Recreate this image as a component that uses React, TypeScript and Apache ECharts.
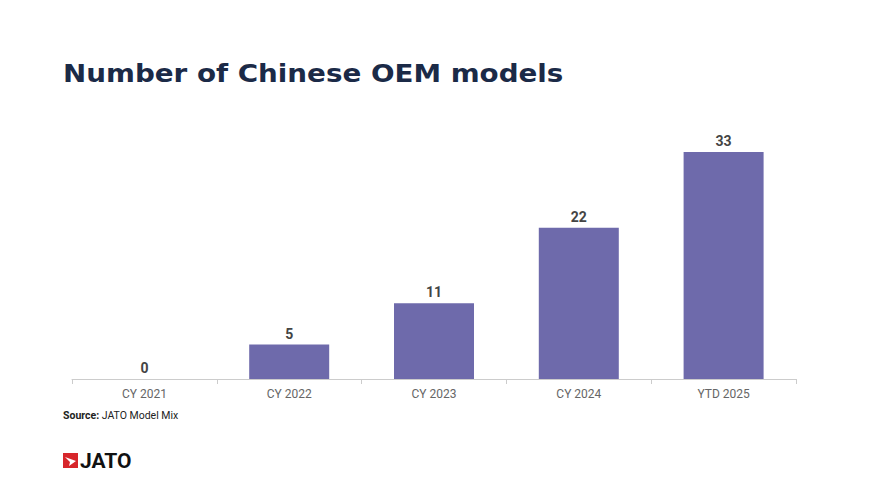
import React, { useEffect, useRef } from "react";
import * as echarts from "echarts";

const categories = ["CY 2021", "CY 2022", "CY 2023", "CY 2024", "YTD 2025"];
const values = [0, 5, 11, 22, 33];

export default function App() {
  const ref = useRef<HTMLDivElement>(null);
  useEffect(() => {
    const chart = echarts.init(ref.current!, null, { renderer: "svg" });
    chart.setOption({
      animation: false,
      backgroundColor: "#ffffff",
      grid: { left: 72, right: 73, top: 152, bottom: 109 },
      xAxis: {
        type: "category",
        data: categories,
        axisLine: { lineStyle: { color: "#cccccc", width: 1 } },
        axisTick: { show: true, length: 5, lineStyle: { color: "#cccccc" } },
        axisLabel: { color: "#666666", fontSize: 12, fontFamily: "Roboto", margin: 9 },
      },
      yAxis: {
        type: "value",
        min: 0,
        max: 33,
        show: false,
        splitLine: { show: false },
      },
      series: [
        {
          type: "bar",
          data: values,
          barWidth: 80,
          itemStyle: { color: "#6e6aab" },
          label: {
            show: true,
            position: "top",
            distance: 4,
            color: "#444444",
            fontSize: 14,
            fontWeight: "bold",
            fontFamily: "Roboto",
          },
        },
      ],
      graphic: [
        {
          type: "text",
          x: 63,
          y: 60,
          scaleX: 1.11,
          style: {
            text: "Number of Chinese OEM models",
            x: 0,
            y: 0,
            verticalAlign: "top",
            fill: "#1b2a47",
            fontSize: 25,
            fontWeight: "bold",
            fontFamily: "DejaVu Sans",
          },
        },
        {
          type: "text",
          left: 63,
          top: 410,
          style: {
            text: "{b|Source:} JATO Model Mix",
            fill: "#222222",
            fontSize: 10.5,
            fontFamily: "Roboto",
            rich: {
              b: { fontWeight: "bold", fontSize: 10.5, fontFamily: "Roboto", fill: "#222222" },
            },
          },
        },
        {
          type: "rect",
          shape: { x: 63, y: 453, width: 15, height: 15 },
          style: { fill: "#d7262b" },
        },
        {
          type: "polygon",
          shape: {
            points: [
              [65, 457],
              [76, 461],
              [69, 466],
              [70, 462],
            ],
          },
          style: { fill: "#ffffff" },
        },
        {
          type: "text",
          left: 80,
          top: 450,
          style: {
            text: "JATO",
            fill: "#111111",
            fontSize: 21,
            fontWeight: "bold",
            fontFamily: "Roboto",
          },
        },
      ],
    });
    return () => chart.dispose();
  }, []);
  return <div ref={ref} style={{ width: 869, height: 488, margin: -8 }} />;
}
